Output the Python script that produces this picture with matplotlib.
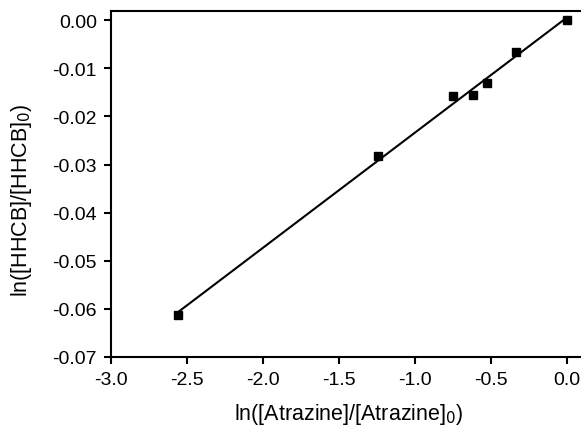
import numpy as np
import matplotlib
matplotlib.use('Agg')
import matplotlib.pyplot as plt

plt.rcParams['font.family'] = ['Liberation Sans', 'DejaVu Sans']

# ln([Atrazine]/[Atrazine]0) и ln([HHCB]/[HHCB]0)
ln_atrazine = [-2.56, -1.243, -0.75, -0.62, -0.528, -0.34, 0.0]
ln_hhcb = [-0.0612, -0.0283, -0.0157, -0.0155, -0.0130, -0.0067, 0.0]

x_ticks = [-3.0, -2.5, -2.0, -1.5, -1.0, -0.5, 0.0]
y_ticks = [0.00, -0.01, -0.02, -0.03, -0.04, -0.05, -0.06, -0.07]

# линейная регрессия
k, b = np.polyfit(ln_atrazine, ln_hhcb, 1)
xl = np.array([min(ln_atrazine), max(ln_atrazine)])

fig = plt.figure(figsize=(5.81, 4.27), dpi=100)
ax = fig.add_axes([111 / 581, 1 - 358 / 427, 475 / 581, 346 / 427])

ax.plot(xl, k * xl + b, color='black', lw=1.5)
ax.plot(ln_atrazine, ln_hhcb, 's', color='black', ms=6)

ax.set_xlim(-3.0, 0.123)
ax.set_ylim(-0.07, 0.0019)
ax.set_xticks(x_ticks)
ax.set_xticklabels([f'{v:.1f}' for v in x_ticks])
ax.set_yticks(y_ticks)
ax.set_yticklabels([f'{v:.2f}' for v in y_ticks])

for s in ax.spines.values():
    s.set_linewidth(1.5)
ax.tick_params(direction='out', length=5, width=1.5, labelsize=14, top=False, right=False)
ax.tick_params(axis='x', pad=5)
ax.tick_params(axis='y', pad=5)

ax.set_xlabel('ln([Atrazine]/[Atrazine]$_0$)', fontsize=15.5)
ax.set_ylabel('ln([HHCB]/[HHCB]$_0$)', fontsize=15.5)
ax.xaxis.set_label_coords(0.5, -0.128)
ax.yaxis.set_label_coords(-0.163, 0.455)

fig.savefig('out.png', dpi=100)
